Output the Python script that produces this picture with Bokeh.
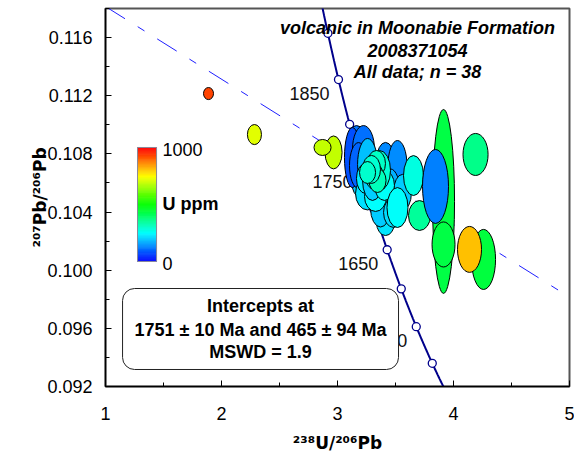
import colorsys
import numpy as np
from bokeh.plotting import figure
from bokeh.models import (ColumnDataSource, LinearColorMapper, FixedTicker, Label,
                          BoxAnnotation, Range1d, NumeralTickFormatter)
from bokeh.core.properties import value
from bokeh.embed import file_html
from bokeh.resources import INLINE

# ---------------- data ----------------
# error ellipses: 238U/206Pb, 207Pb/206Pb, full widths, U ppm (drawing order back -> front)
x_ratio = [1.888, 2.284, 2.966, 2.871,
           3.164, 3.198, 3.474, 3.414,
           3.129, 3.224, 3.181, 3.259, 3.414, 3.517, 3.457, 3.560, 3.259, 3.371, 3.483,
           3.328, 3.241, 3.302, 3.405, 3.362, 3.336, 3.319, 3.345, 3.293, 3.259,
           3.517, 3.655, 3.707, 3.914, 3.845, 3.914, 4.190, 4.259, 4.138]
y_ratio = [0.11215, 0.10933, 0.10810, 0.10844,
           0.10892, 0.10617, 0.10631, 0.10328,
           0.10775, 0.10830, 0.10720, 0.10727, 0.10755, 0.10720, 0.10514, 0.10535, 0.10528, 0.10424, 0.10397,
           0.10507, 0.10631, 0.10617, 0.10583, 0.10686, 0.10734, 0.10645, 0.10617, 0.10693, 0.10672,
           0.10431, 0.10651, 0.10376, 0.10473, 0.10576, 0.10177, 0.10796, 0.10074, 0.10143]
ell_w = [0.086, 0.121, 0.147, 0.147,
         0.155, 0.155, 0.155, 0.155,
         0.138, 0.190, 0.155, 0.172, 0.155, 0.164, 0.172, 0.155, 0.207, 0.172, 0.172,
         0.190, 0.155, 0.172, 0.172, 0.190, 0.155, 0.155, 0.147, 0.155, 0.138,
         0.181, 0.172, 0.190, 0.190, 0.224, 0.198, 0.216, 0.207, 0.207]
ell_h = [0.00083, 0.00138, 0.00227, 0.00110,
         0.00206, 0.00234, 0.00275, 0.00179,
         0.00413, 0.00330, 0.00316, 0.00358, 0.00248, 0.00344, 0.00365, 0.00248, 0.00227, 0.00254, 0.00206,
         0.00206, 0.00206, 0.00275, 0.00206, 0.00275, 0.00179, 0.00179, 0.00165, 0.00193, 0.00151,
         0.00275, 0.00275, 0.00206, 0.01265, 0.00509, 0.00310, 0.00289, 0.00413, 0.00316]
u_ppm = [930, 720, 690, 690,
         115, 200, 150, 225,
         79, 110, 100, 190, 135, 140, 175, 200, 220, 200, 215,
         250, 235, 205, 255, 290, 305, 285, 320, 295, 300,
         255, 280, 350, 430, 125, 430, 365, 440, 810]

# concordia age marks (Ma) and labelled ones
marker_ages = [1500, 1550, 1600, 1650, 1700, 1750, 1800, 1850, 1900]
label_ages = [1550, 1650, 1750, 1850]
upper_intercept_ma = 1751
lower_intercept_ma = 465

x_ticks = [1, 2, 3, 4, 5]
x_minor = [1.5, 2.5, 3.5, 4.5]
y_ticks = [0.092, 0.096, 0.100, 0.104, 0.108, 0.112, 0.116]
y_minor = [0.094, 0.098, 0.102, 0.106, 0.110, 0.114, 0.118]

title_lines = ["volcanic in Moonabie Formation", "2008371054", "All data; n = 38"]
box_lines = ["Intercepts at", "1751 \u00b1 10 Ma and 465 \u00b1 94 Ma", "MSWD = 1.9"]
u_range = [0, 1000]

# ---------------- concordia model ----------------
L238 = 1.55125e-10
L235 = 9.8485e-10
U85 = 137.88

def tw(age_ma):
    t = np.asarray(age_ma, dtype=float) * 1e6
    e8 = np.exp(L238 * t) - 1
    e5 = np.exp(L235 * t) - 1
    return 1.0 / e8, e5 / e8 / U85

conc_x, conc_y = tw(np.linspace(1400, 2000, 400))
mk_x, mk_y = tw(marker_ages)
lb_x, lb_y = tw(label_ages)
ux, uy = tw(upper_intercept_ma)
lx, ly = tw(lower_intercept_ma)
slope = (ly - uy) / (lx - ux)
disc_x = [x_ticks[0], x_ticks[-1]]
disc_y = [uy + slope * (xx - ux) for xx in disc_x]

# ---------------- palette (hue rainbow blue -> red) ----------------
palette = []
for i in range(256):
    r, g, b = colorsys.hsv_to_rgb((240.0 / 360.0) * (1 - i / 255.0), 1, 1)
    palette.append("#%02x%02x%02x" % (int(r * 255), int(g * 255), int(b * 255)))
mapper = LinearColorMapper(palette=palette, low=u_range[0], high=u_range[1])

FONT = "Liberation Sans"

p = figure(frame_width=464, frame_height=378, output_backend="svg", toolbar_location=None,
           x_range=Range1d(1, 5), y_range=Range1d(0.092, 0.118),
           min_border_left=105, min_border_right=5, min_border_top=8, min_border_bottom=60)
p.grid.visible = False
p.background_fill_color = "white"
p.border_fill_color = "white"
p.outline_line_color = "#555555"
p.outline_line_width = 2

for ax in (p.xaxis[0], p.yaxis[0]):
    ax.major_tick_in = 6
    ax.major_tick_out = 0
    ax.minor_tick_in = 4
    ax.minor_tick_out = 0
    ax.axis_line_width = 1.5
    ax.axis_line_color = "black"
    ax.major_tick_line_color = "black"
    ax.minor_tick_line_color = "black"
    ax.major_label_text_font = FONT
    ax.major_label_text_font_size = "18px"
    ax.major_label_text_color = "black"
    ax.axis_label_text_font = "DejaVu Sans"
    ax.axis_label_text_font_size = "17px"
    ax.axis_label_text_font_style = "bold"
    ax.axis_label_text_color = "black"

p.xaxis.ticker = FixedTicker(ticks=x_ticks, minor_ticks=x_minor)
p.yaxis.ticker = FixedTicker(ticks=y_ticks, minor_ticks=y_minor)
p.yaxis.formatter = NumeralTickFormatter(format="0.000")
p.xaxis.major_label_standoff = 20
p.yaxis.major_label_standoff = 13
p.xaxis.axis_label = "\u00b2\u00b3\u2078U/\u00b2\u2070\u2076Pb"
p.yaxis.axis_label = "\u00b2\u2070\u2077Pb/\u00b2\u2070\u2076Pb"
p.xaxis.axis_label_standoff = 10
p.yaxis.axis_label_standoff = -6

# discordia (dashed) and concordia
p.line(disc_x, disc_y, line_color="#1f1fff", line_width=1, line_dash="23 15 8 15")
p.line(conc_x, conc_y, line_color="#00008b", line_width=2)
p.scatter(mk_x, mk_y, size=8, marker="circle", fill_color="white", line_color="#00008b", line_width=1.3)
p.text(lb_x, lb_y, text=[str(a) for a in label_ages], text_align="right", text_baseline="middle",
       x_offset=-9, y_offset=14, text_font=value(FONT), text_font_size="18px", text_color="#111111")

# ellipses
src = ColumnDataSource(dict(x=x_ratio, y=y_ratio, w=ell_w, h=ell_h, u=u_ppm))
p.ellipse(x="x", y="y", width="w", height="h", source=src,
          fill_color={"field": "u", "transform": mapper}, line_color="black", line_width=1)

# colour scale drawn inside the plot
cb_left, cb_right = 1.276, 1.440
cb_bottom, cb_top = 0.10060, 0.10844
levels = np.linspace(u_range[0], u_range[1], 121)
cb_src = ColumnDataSource(dict(
    b=cb_bottom + (levels[:-1] - u_range[0]) / (u_range[1] - u_range[0]) * (cb_top - cb_bottom),
    t=cb_bottom + (levels[1:] - u_range[0]) / (u_range[1] - u_range[0]) * (cb_top - cb_bottom),
    u=(levels[:-1] + levels[1:]) / 2))
p.quad(left=cb_left, right=cb_right, bottom="b", top="t", source=cb_src,
       fill_color={"field": "u", "transform": mapper},
       line_color={"field": "u", "transform": mapper}, line_width=0.6)
p.quad(left=[cb_left], right=[cb_right], bottom=[cb_bottom], top=[cb_top],
       fill_color=None, line_color="#8a8a9a", line_width=1)
p.add_layout(Label(x=1.491, y=cb_top, text=str(u_range[1]), text_baseline="middle", y_offset=-2,
                   text_font=FONT, text_font_size="18px", text_color="black"))
p.add_layout(Label(x=1.491, y=(cb_top + cb_bottom) / 2, text="U ppm", text_baseline="middle",
                   text_font=FONT, text_font_size="18px", text_font_style="bold", text_color="black"))
p.add_layout(Label(x=1.491, y=cb_bottom, text=str(u_range[0]), text_baseline="middle", y_offset=-2,
                   text_font=FONT, text_font_size="18px", text_color="black"))

# title lines
title_y = [0.11669, 0.11511, 0.11360]
for t, yy in zip(title_lines, title_y):
    p.add_layout(Label(x=3.69, y=yy, text=t, text_align="center", text_baseline="middle",
                       text_font=FONT, text_font_size="18px", text_font_style="bold italic",
                       text_color="black"))

# intercept box
p.add_layout(BoxAnnotation(left=1.147, right=3.526, bottom=0.09317, top=0.09874,
                           fill_color="white", fill_alpha=1.0, line_color="#222222",
                           line_alpha=1.0, line_width=1, border_radius=12))
box_y = [0.09757, 0.09592, 0.09434]
for t, yy in zip(box_lines, box_y):
    p.add_layout(Label(x=2.336, y=yy, text=t, text_align="center", text_baseline="middle",
                       text_font=FONT, text_font_size="18px", text_font_style="bold",
                       text_color="black"))

open("out.html", "w").write(file_html(p, INLINE))
